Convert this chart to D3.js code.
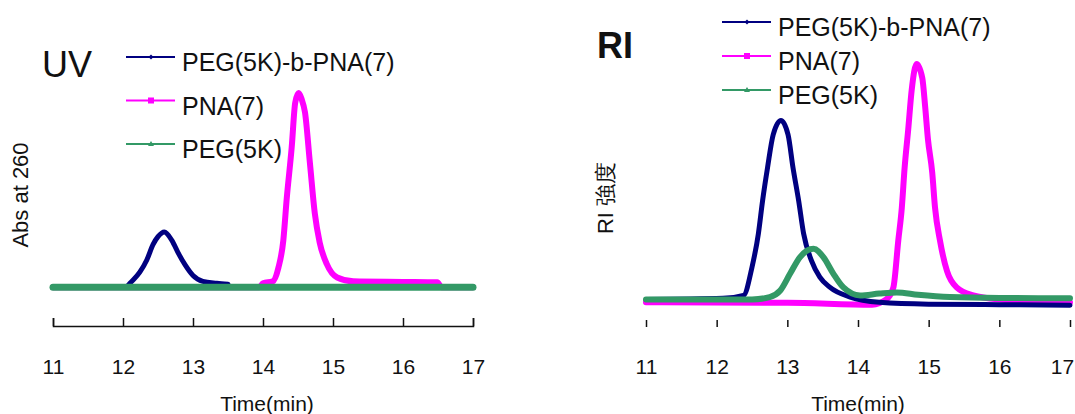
<!DOCTYPE html>
<html>
<head>
<meta charset="utf-8">
<script src="https://cdn.jsdelivr.net/npm/d3@7"></script>
<style>
  html, body { margin: 0; padding: 0; background: #fff; }
  svg { display: block; }
  text { font-family: "Liberation Sans", Arial, sans-serif; fill: #111; }
</style>
</head>
<body>
<svg id="chart" width="1075" height="414"></svg>
<script>
// ---- series (elution time in min, normalised detector response) ----
const seriesNames = ["PEG(5K)-b-PNA(7)", "PNA(7)", "PEG(5K)"];
const seriesColors = ["#000080", "#ff00ff", "#339966"];
const xTicks = [11, 12, 13, 14, 15, 16, 17];

// UV detector (Abs at 260)
const uvConjT = [12.05, 12.1, 12.24, 12.34, 12.43, 12.5, 12.59, 12.7, 12.79, 12.89, 13.0, 13.14, 13.34, 13.5];
const uvConjV = [0.0, 0.02, 0.077, 0.14, 0.22, 0.26, 0.284, 0.24, 0.175, 0.113, 0.06, 0.03, 0.02, 0.015];
const uvPnaT = [11, 13.95, 14.0, 14.14, 14.22, 14.29, 14.34, 14.41, 14.46, 14.51, 14.55, 14.6, 14.67, 14.74, 14.81, 14.91, 15.06, 15.29, 16.0, 16.49, 16.55, 17];
const uvPnaV = [0, 0, 0.02, 0.03, 0.1, 0.24, 0.46, 0.72, 0.95, 1.0, 0.97, 0.9, 0.64, 0.38, 0.23, 0.12, 0.05, 0.03, 0.027, 0.025, 0, 0];
const uvPegT = [11, 14, 17];
const uvPegV = [0, 0, 0];

// RI detector
const riConjT = [11, 12.09, 12.38, 12.5, 12.59, 12.65, 12.72, 12.8, 12.91, 13.01, 13.08, 13.16, 13.23, 13.34, 13.46, 13.6, 13.89, 14.3, 15.0, 16.0, 17];
const riConjV = [0, 0.005, 0.017, 0.137, 0.279, 0.42, 0.56, 0.7, 0.76, 0.7, 0.56, 0.42, 0.28, 0.166, 0.095, 0.052, 0.01, -0.012, -0.02, -0.022, -0.025];
const riPnaT = [11, 13.0, 14.2, 14.4, 14.5, 14.57, 14.62, 14.66, 14.71, 14.76, 14.83, 14.91, 14.95, 14.99, 15.05, 15.09, 15.16, 15.26, 15.4, 15.63, 16.0, 17];
const riPnaV = [-0.012, -0.014, -0.022, 0.0, 0.05, 0.25, 0.39, 0.56, 0.72, 0.89, 1.0, 0.94, 0.82, 0.68, 0.54, 0.39, 0.25, 0.12, 0.05, 0.017, 0.0, -0.013];
const riPegT = [11, 12.5, 12.75, 12.9, 13.04, 13.18, 13.37, 13.51, 13.65, 13.79, 14.03, 14.3, 14.55, 14.85, 15.3, 16.0, 17];
const riPegV = [0, 0, 0.01, 0.038, 0.11, 0.18, 0.215, 0.18, 0.11, 0.052, 0.017, 0.025, 0.03, 0.02, 0.01, 0.006, 0.005];

const svg = d3.select("#chart");
svg.append("rect").attr("width", 1075).attr("height", 414).attr("fill", "#fff");

function pairs(t, v) { return t.map((d, i) => [d, v[i]]); }

function panel(cfg) {
  const x = d3.scaleLinear().domain([11, 17]).range(cfg.xRange);
  const y = d3.scaleLinear().domain(cfg.yDomain).range(cfg.yRange);
  const g = svg.append("g");

  // x axis with inward ticks
  const axis = d3.axisBottom(x).tickValues(xTicks).tickSize(-cfg.tickLen)
    .tickPadding(cfg.tickPad).tickFormat(d3.format("d"));
  const ag = g.append("g").attr("transform", `translate(0,${cfg.axisY})`).call(axis);
  ag.selectAll("text").attr("font-size", 21).attr("fill", "#222")
    .style("font-family", "'Liberation Sans', Arial, sans-serif");
  // keep the last label inside the page edge
  ag.selectAll(".tick text").filter(d => d === 17).attr("dx", cfg.lastLabelShift);
  ag.selectAll("line").attr("stroke", "#111").attr("stroke-width", 1.5);
  if (cfg.showDomain) {
    ag.select(".domain").attr("stroke", "#111").attr("stroke-width", 1.5);
  } else {
    ag.select(".domain").remove();
  }

  // curves
  const line = d3.line().x(d => x(d[0])).y(d => y(d[1])).curve(d3.curveMonotoneX);
  cfg.series.forEach((s) => {
    g.append("path").datum(pairs(s.t, s.v))
      .attr("fill", "none").attr("stroke", s.color)
      .attr("stroke-width", s.width).attr("stroke-linejoin", "round")
      .attr("stroke-linecap", "round").attr("d", line);
  });

  // titles
  g.append("text").attr("x", cfg.title.x).attr("y", cfg.title.y)
    .attr("font-size", 36).attr("font-weight", cfg.title.weight).text(cfg.title.text);
  g.append("text").attr("transform", `translate(${cfg.yLabel.x},${cfg.yLabel.y}) rotate(-90)`)
    .attr("text-anchor", "middle").attr("dominant-baseline", "central")
    .attr("font-size", cfg.yLabel.size).text(cfg.yLabel.text);
  g.append("text").attr("x", cfg.xLabel.x).attr("y", cfg.xLabel.y)
    .attr("text-anchor", "middle").attr("dominant-baseline", "central")
    .attr("font-size", 21).text("Time(min)");

  // legend
  const lg = g.append("g");
  seriesNames.forEach((name, i) => {
    const ly = cfg.legend.y + i * cfg.legend.dy;
    const x0 = cfg.legend.x;
    lg.append("line").attr("x1", x0).attr("x2", x0 + 49).attr("y1", ly).attr("y2", ly)
      .attr("stroke", seriesColors[i]).attr("stroke-width", 2);
    const mx = x0 + 25;
    if (i === 0) {
      lg.append("path").attr("d", `M${mx - 2.5},${ly}L${mx},${ly - 2.5}L${mx + 2.5},${ly}L${mx},${ly + 2.5}Z`)
        .attr("fill", seriesColors[i]);
    } else if (i === 1) {
      lg.append("rect").attr("x", mx - 3).attr("y", ly - 3).attr("width", 6).attr("height", 6)
        .attr("fill", seriesColors[i]);
    } else {
      lg.append("path").attr("d", `M${mx - 3},${ly + 2}L${mx + 3},${ly + 2}L${mx},${ly - 3}Z`)
        .attr("fill", seriesColors[i]);
    }
    lg.append("text").attr("x", x0 + 56).attr("y", ly + 5)
      .attr("dominant-baseline", "central").attr("font-size", 25).text(name);
  });
}

panel({
  xRange: [53, 473], yDomain: [-0.2, 1], yRange: [326, 93],
  axisY: 326, tickLen: 8, tickPad: 33, showDomain: true, lastLabelShift: 0,
  series: [
    { t: uvPnaT, v: uvPnaV, color: seriesColors[1], width: 6 },
    { t: uvConjT, v: uvConjV, color: seriesColors[0], width: 5 },
    { t: uvPegT, v: uvPegV, color: seriesColors[2], width: 7 }
  ],
  title: { text: "UV", x: 42, y: 77, weight: "normal" },
  yLabel: { text: "Abs at 260", x: 20, y: 195, size: 22 },
  xLabel: { x: 267, y: 403 },
  legend: { x: 126, y: 57, dy: 43.5 }
});

panel({
  xRange: [646, 1070], yDomain: [-0.1, 1], yRange: [323, 64],
  axisY: 327, tickLen: 7, tickPad: 32, showDomain: false, lastLabelShift: -8,
  series: [
    { t: riPnaT, v: riPnaV, color: seriesColors[1], width: 6 },
    { t: riConjT, v: riConjV, color: seriesColors[0], width: 5 },
    { t: riPegT, v: riPegV, color: seriesColors[2], width: 6 }
  ],
  title: { text: "RI", x: 597, y: 58, weight: "bold" },
  yLabel: { text: "RI 強度", x: 605, y: 198, size: 22 },
  xLabel: { x: 858, y: 403 },
  legend: { x: 722, y: 22, dy: 34 }
});
</script>
</body>
</html>
